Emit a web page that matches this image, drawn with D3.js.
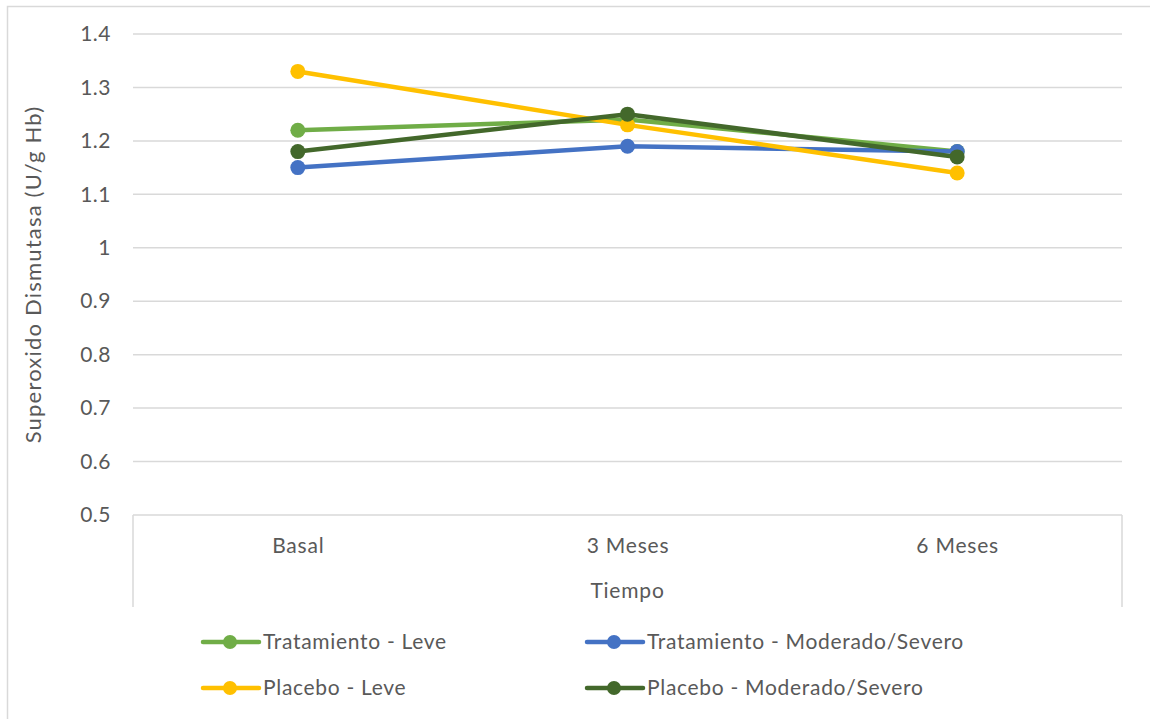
<!DOCTYPE html>
<html>
<head>
<meta charset="utf-8">
<script src="https://cdn.jsdelivr.net/npm/d3@7"></script>
<style>
  html, body { margin: 0; padding: 0; background: #fff; }
  svg text { font-family: Lato, "Open Sans", sans-serif; fill: #595959; }
</style>
</head>
<body>
<svg id="chart" width="1150" height="719"></svg>
<script>
// Superoxide dismutase activity by time point and group
const categories = ["Basal", "3 Meses", "6 Meses"];
const seriesNames = [
  "Tratamiento - Leve",
  "Tratamiento - Moderado/Severo",
  "Placebo - Leve",
  "Placebo - Moderado/Severo"
];
const tratamientoLeve = [1.22, 1.24, 1.18];
const tratamientoModSev = [1.15, 1.19, 1.18];
const placeboLeve = [1.33, 1.23, 1.14];
const placeboModSev = [1.18, 1.25, 1.17];
const yTicks = [0.5, 0.6, 0.7, 0.8, 0.9, 1, 1.1, 1.2, 1.3, 1.4];
const colors = ["#70AD47", "#4472C4", "#FFC000", "#43682B"];

const series = seriesNames.map((name, i) => ({
  name,
  color: colors[i],
  values: [tratamientoLeve, tratamientoModSev, placeboLeve, placeboModSev][i]
}));

const svg = d3.select("#chart");
const FONT = "Lato, 'Open Sans', sans-serif";

// chart frame
svg.append("rect")
  .attr("x", 7.5).attr("y", 6.5)
  .attr("width", 1200).attr("height", 800)
  .attr("fill", "none").attr("stroke", "#D9D9D9").attr("stroke-width", 1.5);

const plotLeft = 133, plotRight = 1122, plotTop = 34, plotBottom = 515;

const x = d3.scalePoint().domain(categories).range([plotLeft, plotRight]).padding(0.5);
const y = d3.scaleLinear().domain([0.5, 1.4]).range([plotBottom, plotTop]);

// horizontal gridlines
svg.append("g")
  .selectAll("line")
  .data(yTicks)
  .join("line")
  .attr("x1", plotLeft).attr("x2", plotRight)
  .attr("y1", d => y(d)).attr("y2", d => y(d))
  .attr("stroke", "#D9D9D9").attr("stroke-width", 1.5);

// y axis tick labels
const yAxis = d3.axisLeft(y).tickValues(yTicks).tickSize(0).tickPadding(0)
  .tickFormat(d => String(+d.toFixed(1)));
const gy = svg.append("g").attr("transform", `translate(${plotLeft - 22},0)`).call(yAxis);
gy.select(".domain").remove();
gy.selectAll("text").attr("font-size", 21).attr("font-family", FONT)
  .attr("fill", "#595959").attr("letter-spacing", 0.5);

// category axis frame: the two outer boundary lines extend below the plot
svg.append("g").selectAll("line")
  .data([plotLeft, plotRight])
  .join("line")
  .attr("x1", d => d).attr("x2", d => d)
  .attr("y1", plotBottom).attr("y2", 607)
  .attr("stroke", "#D9D9D9").attr("stroke-width", 1.5);

// category labels
const xAxis = d3.axisBottom(x).tickSize(0).tickPadding(0);
const gx = svg.append("g").attr("transform", `translate(0,${plotBottom + 24})`).call(xAxis);
gx.select(".domain").remove();
gx.selectAll("text").attr("font-size", 21).attr("font-family", FONT)
  .attr("fill", "#595959").attr("letter-spacing", 0.8).attr("dy", "0.35em").attr("y", 7);

// axis titles
svg.append("text")
  .attr("x", x("3 Meses")).attr("y", 598)
  .attr("text-anchor", "middle").attr("font-size", 21).attr("letter-spacing", 0.8)
  .text("Tiempo");

svg.append("text")
  .attr("transform", `translate(41,${(plotTop + plotBottom) / 2}) rotate(-90)`)
  .attr("text-anchor", "middle").attr("font-size", 22).attr("letter-spacing", 1.2)
  .text("Superoxido Dismutasa (U/g Hb)");

// series lines and markers
const line = d3.line().x((d, i) => x(categories[i])).y(d => y(d));
const gs = svg.append("g");
series.forEach(s => {
  const g = gs.append("g");
  g.append("path")
    .attr("d", line(s.values))
    .attr("fill", "none").attr("stroke", s.color)
    .attr("stroke-width", 4.5).attr("stroke-linejoin", "round").attr("stroke-linecap", "round");
  g.selectAll("circle")
    .data(s.values)
    .join("circle")
    .attr("cx", (d, i) => x(categories[i]))
    .attr("cy", d => y(d))
    .attr("r", 7.5)
    .attr("fill", s.color);
});

// legend
const legendPos = [[203, 642], [587, 642], [203, 688], [587, 688]];
const lg = svg.append("g");
series.forEach((s, i) => {
  const [lx, ly] = legendPos[i];
  const item = lg.append("g").attr("transform", `translate(${lx},${ly})`);
  item.append("line").attr("x1", 0).attr("x2", 56).attr("y1", 0).attr("y2", 0)
    .attr("stroke", s.color).attr("stroke-width", 4.5).attr("stroke-linecap", "round");
  item.append("circle").attr("cx", 27).attr("cy", 0).attr("r", 7).attr("fill", s.color);
  item.append("text").attr("x", 60).attr("y", 0).attr("dy", "0.35em")
    .attr("font-size", 21).attr("letter-spacing", 0.7).text(s.name);
});
</script>
</body>
</html>
